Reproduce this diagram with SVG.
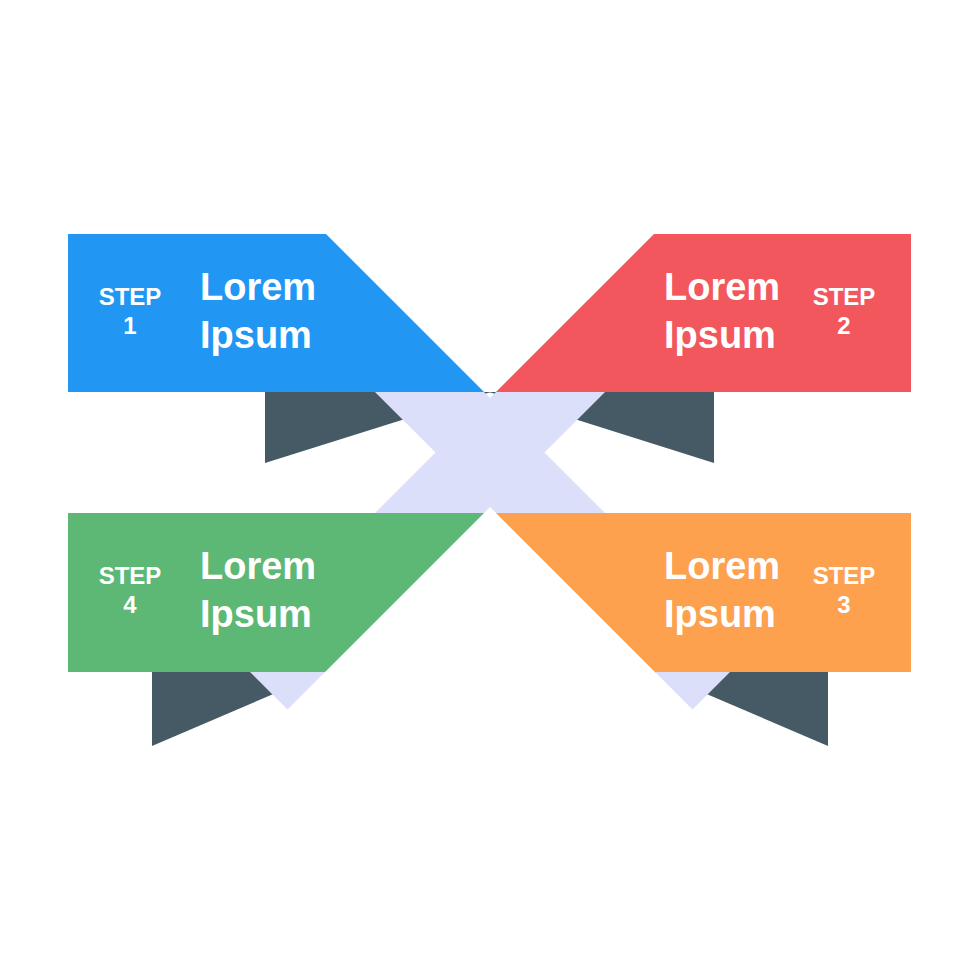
<svg xmlns="http://www.w3.org/2000/svg" width="980" height="980" viewBox="0 0 980 980">
<style>
.tail{fill:#455a64}
.step{font-family:"Liberation Sans",Arial,sans-serif;font-weight:bold;font-size:24px;fill:#ffffff;text-anchor:middle}
.title{font-family:"Liberation Sans",Arial,sans-serif;font-weight:bold;font-size:38px;fill:#ffffff}
</style>
<rect width="980" height="980" fill="#ffffff"/>
<g id="tails">
<polygon class="tail" points="265,392 491,392 265,463"/>
<polygon class="tail" points="714,392 489,392 714,463"/>
<polygon class="tail" points="152,672 325,672 152,746"/>
<polygon class="tail" points="828,672 655,672 828,746"/>
</g>
<g id="connectors">
<polygon fill="#dcdff9" points="490,398 588,300 697,300 544.5,452.5 747,655 692.5,709.5 490,507 287.5,709.5 233,655 435.5,452.5 283,300 392,300"/>
</g>
<g id="step1">
<polygon fill="#2196f3" points="68,234 326,234 484,392 68,392"/>
<text class="step" x="130" y="305">STEP</text>
<text class="step" x="130" y="334">1</text>
<text class="title" x="200" y="300">Lorem</text>
<text class="title" x="200" y="348">Ipsum</text>
</g>
<g id="step2">
<polygon fill="#f2575d" points="654,234 911,234 911,392 496,392"/>
<text class="step" x="844" y="305">STEP</text>
<text class="step" x="844" y="334">2</text>
<text class="title" x="664" y="300">Lorem</text>
<text class="title" x="664" y="348">Ipsum</text>
</g>
<g id="step4">
<polygon fill="#5cb874" points="68,513 484,513 325,672 68,672"/>
<text class="step" x="130" y="584">STEP</text>
<text class="step" x="130" y="613">4</text>
<text class="title" x="200" y="579">Lorem</text>
<text class="title" x="200" y="627">Ipsum</text>
</g>
<g id="step3">
<polygon fill="#fda14f" points="496,513 911,513 911,672 655,672"/>
<text class="step" x="844" y="584">STEP</text>
<text class="step" x="844" y="613">3</text>
<text class="title" x="664" y="579">Lorem</text>
<text class="title" x="664" y="627">Ipsum</text>
</g>
</svg>
